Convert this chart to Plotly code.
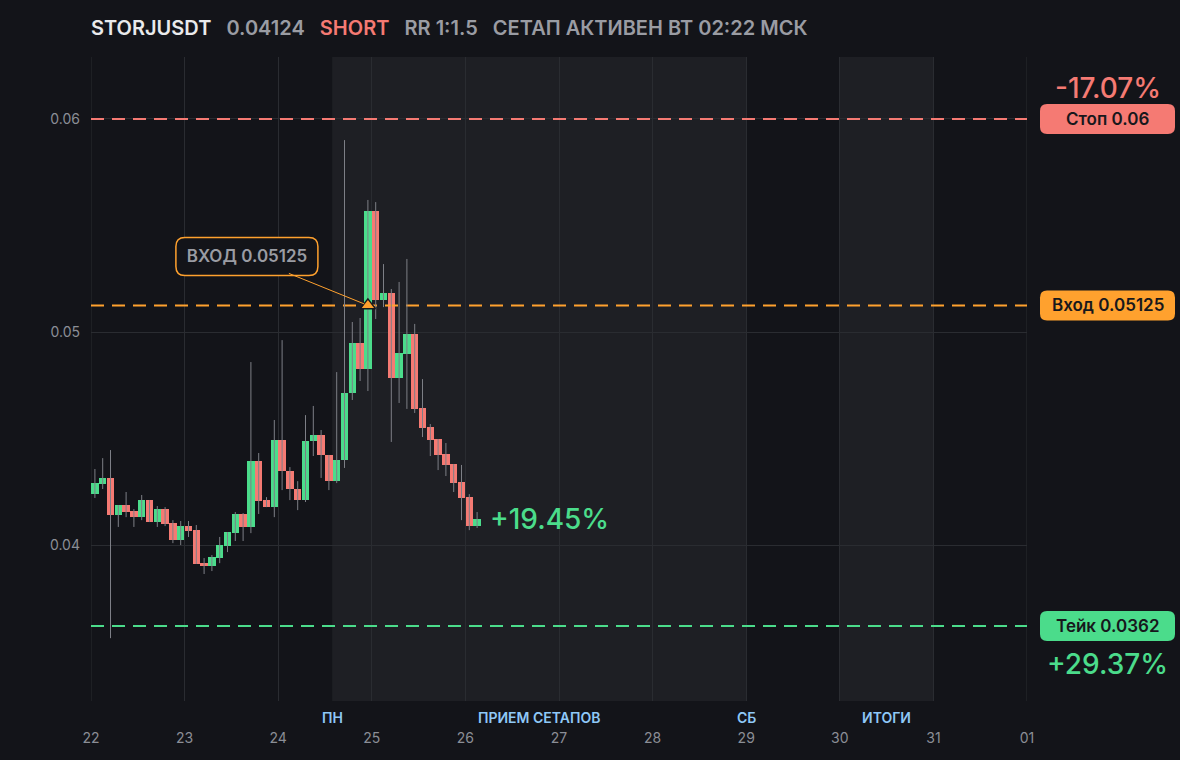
import plotly.graph_objects as go
import pandas as pd

# ---------------- data ----------------
SYMBOL = "STORJUSDT"
LAST_PRICE = "0.04124"
SIDE = "SHORT"
RR = "RR 1:1.5"
STATUS = "СЕТАП АКТИВЕН ВТ 02:22 МСК"

STOP = 0.06
ENTRY = 0.05125
TAKE = 0.0362
STOP_LABEL = "Стоп 0.06"
ENTRY_LABEL = "Вход 0.05125"
TAKE_LABEL = "Тейк 0.0362"
ENTRY_CALLOUT = "ВХОД 0.05125"
STOP_PCT = "-17.07%"
TAKE_PCT = "+29.37%"
OPEN_PNL = "+19.45%"

times = pd.date_range("2023-12-22 01:00", periods=50, freq="2h")

open_ = [0.04239, 0.04286, 0.04315, 0.04141, 0.04188, 0.04160, 0.04131, 0.04211, 0.04108, 0.04169,
         0.04103, 0.04023, 0.04089, 0.04070, 0.03915, 0.03901, 0.03939, 0.03995, 0.04056, 0.04146,
         0.04085, 0.04394, 0.04211, 0.04178, 0.04493, 0.04347, 0.04263, 0.04211, 0.04488, 0.04516,
         0.04423, 0.04300, 0.04399, 0.04714, 0.04948, 0.04826, 0.05568, 0.05150, 0.05183, 0.04784,
         0.04897, 0.04991, 0.04643, 0.04554, 0.04498, 0.04427, 0.04380, 0.04296, 0.04225, 0.04089]
high = [0.04357, 0.04408, 0.04446, 0.04188, 0.04249, 0.04169, 0.04235, 0.04211, 0.04183, 0.04178,
        0.04117, 0.04113, 0.04113, 0.04094, 0.03939, 0.03953, 0.04038, 0.04061, 0.04155, 0.04150,
        0.04859, 0.04432, 0.04225, 0.04587, 0.04962, 0.04366, 0.04300, 0.04610, 0.04653, 0.04540,
        0.04423, 0.04812, 0.05901, 0.05047, 0.05066, 0.05620, 0.05610, 0.05319, 0.05202, 0.05235,
        0.05343, 0.05038, 0.04779, 0.04568, 0.04498, 0.04479, 0.04380, 0.04376, 0.04239, 0.04155]
low = [0.04221, 0.04263, 0.03563, 0.04085, 0.04131, 0.04085, 0.04117, 0.04108, 0.04085, 0.04089,
       0.04009, 0.04000, 0.04038, 0.03911, 0.03864, 0.03878, 0.03915, 0.03967, 0.04019, 0.04019,
       0.04056, 0.04146, 0.04178, 0.04131, 0.04258, 0.04211, 0.04164, 0.04202, 0.04418, 0.04315,
       0.04258, 0.04291, 0.04362, 0.04681, 0.04770, 0.04723, 0.05061, 0.05117, 0.04484, 0.04667,
       0.04639, 0.04620, 0.04507, 0.04418, 0.04352, 0.04324, 0.04249, 0.04117, 0.04070, 0.04080]
close = [0.04291, 0.04315, 0.04141, 0.04188, 0.04155, 0.04131, 0.04211, 0.04108, 0.04169, 0.04099,
         0.04023, 0.04089, 0.04066, 0.03911, 0.03901, 0.03944, 0.04000, 0.04061, 0.04146, 0.04085,
         0.04394, 0.04207, 0.04178, 0.04493, 0.04347, 0.04263, 0.04211, 0.04488, 0.04516, 0.04423,
         0.04300, 0.04399, 0.04714, 0.04948, 0.04826, 0.05568, 0.05150, 0.05183, 0.04784, 0.04901,
         0.04991, 0.04639, 0.04549, 0.04493, 0.04423, 0.04376, 0.04291, 0.04221, 0.04089, 0.04124]

ENTRY_INDEX = 35  # candle where the entry was triggered

day_ticks = pd.date_range("2023-12-22", "2024-01-01", freq="D")
day_labels = [d.strftime("%d") for d in day_ticks]
y_ticks = [0.04, 0.05, 0.06]
y_tick_labels = ["0.04", "0.05", "0.06"]

session_start = pd.Timestamp("2023-12-24 13:50")
session_end = pd.Timestamp("2023-12-29 00:00")
summary_start = pd.Timestamp("2023-12-30 00:00")
summary_end = pd.Timestamp("2023-12-31 00:00")
LBL_MON = "ПН"
LBL_SESSION = "ПРИЕМ СЕТАПОВ"
LBL_SAT = "СБ"
LBL_SUMMARY = "ИТОГИ"

# ---------------- style ----------------
BG = "#131419"
SHADE = "#1e1f24"
GRID = "#2a2c31"
GREEN = "#4bdc8b"
RED = "#f57a73"
ORANGE = "#ffa12e"
WICK = "#7d7f86"
TXT_GRAY = "#9a9ca3"
TICK_GRAY = "#8b8e96"
BLUE = "#8fc8f7"
FONT = "Inter"

FIG_W, FIG_H = 1180, 760
M_L, M_R, M_T, M_B = 91, 153, 57, 59
PW = FIG_W - M_L - M_R
PH = FIG_H - M_T - M_B
Y0, Y1 = 0.03268, 0.06291
X0, X1 = day_ticks[0], day_ticks[-1]


def py_of_price(v):
    return M_T + (Y1 - v) / (Y1 - Y0) * PH


def paper_x(px):
    return (px - M_L) / PW


def paper_y(py):
    return (FIG_H - M_B - py) / PH


def rounded_path(x0, y0, x1, y1, r):
    # pixel rectangle -> paper path with rounded corners
    rx, ry = r / PW, r / PH
    a, b = paper_x(x0), paper_x(x1)
    top, bot = paper_y(y0), paper_y(y1)
    return (f"M {a+rx},{top} L {b-rx},{top} Q {b},{top} {b},{top-ry} "
            f"L {b},{bot+ry} Q {b},{bot} {b-rx},{bot} "
            f"L {a+rx},{bot} Q {a},{bot} {a},{bot+ry} "
            f"L {a},{top-ry} Q {a},{top} {a+rx},{top} Z")


fig = go.Figure()

# level lines (behind candles)
for lvl, col in [(STOP, RED), (ENTRY, ORANGE), (TAKE, GREEN)]:
    fig.add_trace(go.Scatter(x=[X0, X1], y=[lvl, lvl], mode="lines",
                             line=dict(color=col, width=2, dash="13px,8px"),
                             hoverinfo="skip", showlegend=False, cliponaxis=False))

# wicks
wx, wy = [], []
for t, h, l in zip(times, high, low):
    wx += [t, t, None]
    wy += [l, h, None]
fig.add_trace(go.Scatter(x=wx, y=wy, mode="lines", line=dict(color=WICK, width=1),
                         hoverinfo="skip", showlegend=False))

# bodies
base = [min(o, c) for o, c in zip(open_, close)]
height = [max(abs(c - o), 0.00005) for o, c in zip(open_, close)]
colors = [GREEN if c >= o else RED for o, c in zip(open_, close)]
fig.add_trace(go.Bar(x=times, y=height, base=base, marker=dict(color=colors, line=dict(width=0)),
                     width=2 * 3600 * 1000 * 0.93, showlegend=False,
                     customdata=list(zip(open_, high, low, close)),
                     hovertemplate="O %{customdata[0]}<br>H %{customdata[1]}<br>L %{customdata[2]}<br>C %{customdata[3]}<extra></extra>"))

# entry marker
fig.add_trace(go.Scatter(x=[times[ENTRY_INDEX]], y=[ENTRY], mode="markers",
                         marker=dict(symbol="triangle-up", size=13, color=ORANGE,
                                     line=dict(color="#17181c", width=1.5)),
                         hoverinfo="skip", showlegend=False))

shapes = []
for s, e in [(session_start, session_end), (summary_start, summary_end)]:
    shapes.append(dict(type="rect", xref="x", yref="paper", x0=s, x1=e, y0=0, y1=1,
                       fillcolor=SHADE, line=dict(width=0), layer="below"))

# edge grid lines
for xe in [X0, X1]:
    shapes.append(dict(type="line", xref="x", yref="paper", x0=xe, x1=xe, y0=0, y1=1,
                       line=dict(color=GRID, width=1), layer="below"))

annotations = []
# right side level labels
BOX_X0, BOX_X1, BOX_H = 1040, 1175, 30
for lvl, col, lab in [(STOP, RED, STOP_LABEL), (ENTRY, ORANGE, ENTRY_LABEL), (TAKE, GREEN, TAKE_LABEL)]:
    cy = py_of_price(lvl)
    shapes.append(dict(type="path", xref="paper", yref="paper",
                       path=rounded_path(BOX_X0, cy - BOX_H / 2, BOX_X1, cy + BOX_H / 2, 7),
                       fillcolor=col, line=dict(width=0), layer="above"))
    annotations.append(dict(xref="paper", yref="y", x=paper_x((BOX_X0 + BOX_X1) / 2), y=lvl,
                            text=lab, showarrow=False, xanchor="center", yanchor="middle",
                            font=dict(family=FONT, size=17, color="#17181c", weight=600)))

annotations.append(dict(xref="paper", yref="y", x=paper_x((BOX_X0 + BOX_X1) / 2), y=STOP, yshift=31,
                        text=STOP_PCT, showarrow=False, xanchor="center", yanchor="middle",
                        font=dict(family=FONT, size=28, color=RED, weight=500)))
annotations.append(dict(xref="paper", yref="y", x=paper_x((BOX_X0 + BOX_X1) / 2), y=TAKE, yshift=-38,
                        text=TAKE_PCT, showarrow=False, xanchor="center", yanchor="middle",
                        font=dict(family=FONT, size=28, color=GREEN, weight=500)))

# open pnl text next to last candle
annotations.append(dict(x=times[-1], y=close[-1], xref="x", yref="y", xshift=11,
                        text=OPEN_PNL, showarrow=False, xanchor="left", yanchor="middle",
                        font=dict(family=FONT, size=28, color=GREEN, weight=500)))

# entry callout
AX, AY = -121, -49
CW, CH = 142, 38
tip_px = M_L + (times[ENTRY_INDEX] - X0) / (X1 - X0) * PW
tip_py = py_of_price(ENTRY)
cx, cy = tip_px + AX, tip_py + AY
shapes.append(dict(type="path", xref="paper", yref="paper",
                   path=rounded_path(cx - CW / 2, cy - CH / 2, cx + CW / 2, cy + CH / 2, 9),
                   fillcolor=BG, line=dict(color=ORANGE, width=1.5), layer="above"))
annotations.append(dict(x=times[ENTRY_INDEX], y=ENTRY, xref="x", yref="y", ax=AX, ay=AY,
                        text=ENTRY_CALLOUT, showarrow=True, arrowhead=0, arrowwidth=1,
                        arrowcolor=ORANGE, standoff=4, width=CW - 4, height=CH - 4,
                        borderpad=0, borderwidth=0,
                        font=dict(family=FONT, size=17, color=TXT_GRAY, weight=600)))

# period labels
for xpos, lab in [(session_start, LBL_MON), (session_start + (session_end - session_start) / 2, LBL_SESSION),
                  (session_end, LBL_SAT), (summary_start + (summary_end - summary_start) / 2, LBL_SUMMARY)]:
    annotations.append(dict(x=xpos, y=paper_y(717), xref="x", yref="paper", text=lab, showarrow=False,
                            xanchor="center", yanchor="middle",
                            font=dict(family=FONT, size=14, color=BLUE, weight=600)))

# title
title_text = (f"<span style='color:#e9eaec'>{SYMBOL}</span>&nbsp;&nbsp;&nbsp;"
              f"<span style='color:{TXT_GRAY}'>{LAST_PRICE}</span>&nbsp;&nbsp;&nbsp;"
              f"<span style='color:{RED}'>{SIDE}</span>&nbsp;&nbsp;&nbsp;"
              f"<span style='color:{TXT_GRAY}'>{RR}</span>&nbsp;&nbsp;&nbsp;"
              f"<span style='color:{TXT_GRAY}'>{STATUS}</span>")
annotations.append(dict(x=0, y=paper_y(28), xref="paper", yref="paper", text=title_text, xshift=-2,
                        showarrow=False, xanchor="left", yanchor="middle",
                        font=dict(family=FONT, size=20, color=TXT_GRAY, weight=600)))

fig.update_layout(
    width=FIG_W, height=FIG_H,
    margin=dict(l=M_L, r=M_R, t=M_T, b=M_B, autoexpand=False),
    paper_bgcolor=BG, plot_bgcolor=BG,
    showlegend=False, bargap=0,
    shapes=shapes, annotations=annotations,
    font=dict(family=FONT, color=TICK_GRAY),
    xaxis=dict(type="date", range=[X0, X1], tickvals=day_ticks, ticktext=day_labels,
               showgrid=True, gridcolor=GRID, gridwidth=1, zeroline=False, showline=False,
               ticks="", ticklabelstandoff=27, tickfont=dict(family=FONT, size=14, color=TICK_GRAY),
               fixedrange=True),
    yaxis=dict(range=[Y0, Y1], tickvals=y_ticks, ticktext=y_tick_labels,
               showgrid=True, gridcolor=GRID, gridwidth=1, zeroline=False, showline=False,
               ticks="", ticklabelstandoff=10, tickfont=dict(family=FONT, size=14, color=TICK_GRAY),
               fixedrange=True),
)

fig.write_html("out.html", config={"displayModeBar": False},
               post_script="document.body.style.margin='0';document.body.style.overflow='hidden';")
